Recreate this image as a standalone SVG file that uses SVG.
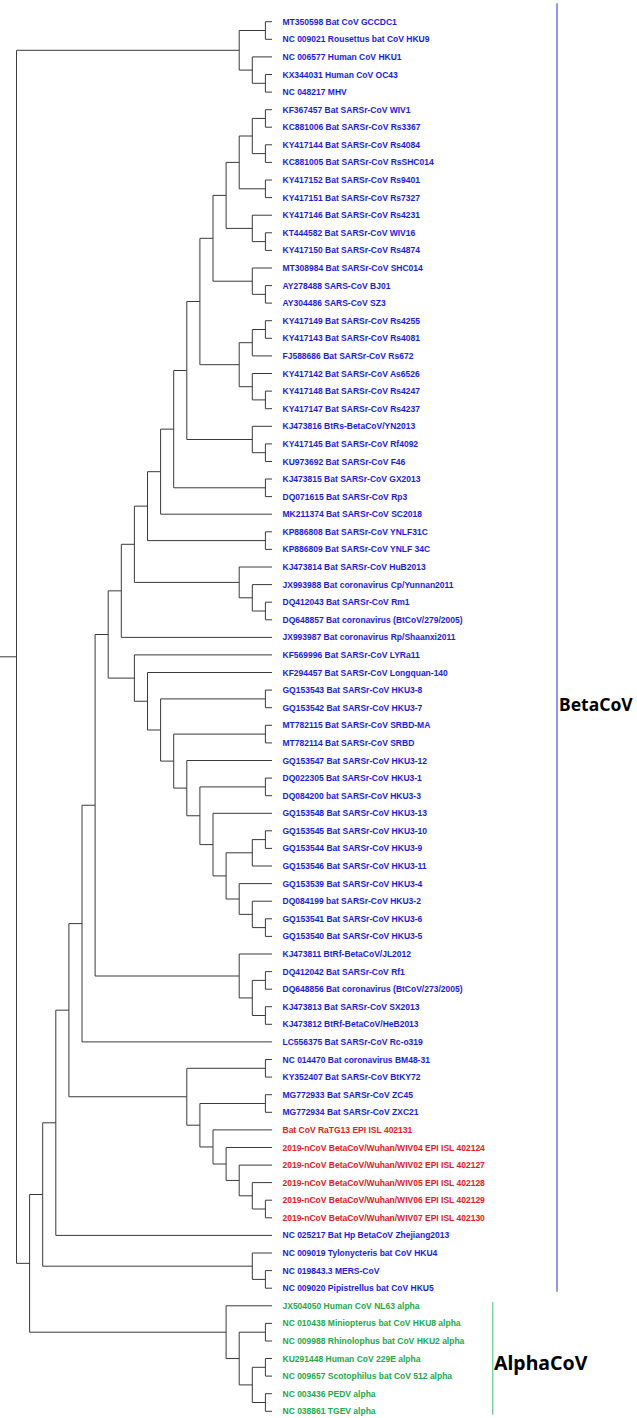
<svg xmlns="http://www.w3.org/2000/svg" width="637" height="1418" viewBox="0 0 637 1418">
<style>
.bg{fill:#ffffff}
.br{fill:none;stroke:#3a3a3a;stroke-width:1}
text.l{font-family:"Liberation Sans",Arial,sans-serif;font-size:8.5px;font-weight:bold}
.b{fill:#1c1ce0}
.r{fill:#e62020}
.g{fill:#22aa4a}
.cl{font-family:"Noto Sans","Liberation Sans",sans-serif;font-size:19.5px;font-weight:bold;fill:#000}
</style>
<rect class="bg" x="0" y="0" width="637" height="1418"/>
<g id="connectors" class="br">
<path d="M0 656.8H16.5"/>
<path d="M239.2 50.3H16.5V1263.35H29.6"/>
<path d="M272 21.7H265.4V39.3H272"/>
<path d="M272 74.5H265.4V92.1H272"/>
<path d="M272 56.9H252.3V83.3H265.4"/>
<path d="M265.4 30.5H239.2V70.1H252.3"/>
<path d="M42.7 1194.5H29.6V1332.2H226.1"/>
<path d="M55.8 1122.8H42.7V1266.2H252.3"/>
<path d="M272 1253H252.3V1279.4H265.4"/>
<path d="M272 1270.6H265.4V1288.2H272"/>
<path d="M68.9 1010.2H55.8V1235.4H272"/>
<path d="M82 923.6H68.9V1096.75H186.8"/>
<path d="M95.1 805.25H82V1041.9H272"/>
<path d="M108.2 634.5H95.1V976H239.2"/>
<path d="M272 954H239.2V997.95H252.3"/>
<path d="M265.4 980.4H252.3V1015.5H265.4"/>
<path d="M272 971.6H265.4V989.2H272"/>
<path d="M272 1006.7H265.4V1024.3H272"/>
<path d="M121.3 590.85H108.2V678.1H134.4"/>
<path d="M134.4 544.3H121.3V637.4H272"/>
<path d="M147.5 506.15H134.4V582.4H239.2"/>
<path d="M160.6 471.7H147.5V540.6H265.4"/>
<path d="M272 531.8H265.4V549.4H272"/>
<path d="M173.7 429.15H160.6V514.2H272"/>
<path d="M186.8 370.5H173.7V487.8H265.4"/>
<path d="M272 479H265.4V496.6H272"/>
<path d="M199.9 301.5H186.8V439.5H252.3"/>
<path d="M272 426.3H252.3V452.7H265.4"/>
<path d="M272 443.9H265.4V461.5H272"/>
<path d="M213 238.3H199.9V364.7H239.2"/>
<path d="M252.3 342.7H239.2V386.7H252.3"/>
<path d="M265.4 329.5H252.3V355.9H272"/>
<path d="M272 320.7H265.4V338.3H272"/>
<path d="M272 373.5H252.3V399.9H265.4"/>
<path d="M272 391.1H265.4V408.7H272"/>
<path d="M226.1 195.4H213V281.2H252.3"/>
<path d="M272 268H252.3V294.35H265.4"/>
<path d="M272 285.6H265.4V303.1H272"/>
<path d="M239.2 162.4H226.1V228.4H252.3"/>
<path d="M272 215.2H252.3V241.6H265.4"/>
<path d="M272 232.8H265.4V250.4H272"/>
<path d="M252.3 136H239.2V188.8H265.4"/>
<path d="M265.4 118.45H252.3V153.6H265.4"/>
<path d="M272 109.7H265.4V127.2H272"/>
<path d="M272 144.8H265.4V162.4H272"/>
<path d="M272 180H265.4V197.6H272"/>
<path d="M272 567H239.2V597.8H252.3"/>
<path d="M272 584.6H252.3V611H265.4"/>
<path d="M272 602.2H265.4V619.8H272"/>
<path d="M272 654.9H134.4V701.25H147.5"/>
<path d="M272 672.5H147.5V730H160.6"/>
<path d="M265.4 698.9H160.6V761.1H173.7"/>
<path d="M272 690.1H265.4V707.7H272"/>
<path d="M265.4 734.1H173.7V788.1H186.8"/>
<path d="M272 725.3H265.4V742.9H272"/>
<path d="M272 760.5H186.8V815.75H199.9"/>
<path d="M265.4 786.9H199.9V844.6H213"/>
<path d="M272 778.1H265.4V795.7H272"/>
<path d="M272 813.3H213V875.9H226.1"/>
<path d="M252.3 852.8H226.1V899H239.2"/>
<path d="M265.4 839.6H252.3V866H272"/>
<path d="M272 830.8H265.4V848.4H272"/>
<path d="M272 883.6H239.2V914.4H252.3"/>
<path d="M272 901.2H252.3V927.6H265.4"/>
<path d="M272 918.8H265.4V936.4H272"/>
<path d="M265.4 1068.3H186.8V1125.2H199.9"/>
<path d="M272 1059.5H265.4V1077.1H272"/>
<path d="M265.4 1103.5H199.9V1146.95H213"/>
<path d="M272 1094.7H265.4V1112.3H272"/>
<path d="M272 1129.9H213V1164H226.1"/>
<path d="M272 1147.5H226.1V1180.45H239.2"/>
<path d="M272 1165.1H239.2V1195.8H252.3"/>
<path d="M272 1182.6H252.3V1209H265.4"/>
<path d="M272 1200.2H265.4V1217.8H272"/>
<path d="M272 1305.8H226.1V1358.55H239.2"/>
<path d="M265.4 1332.2H239.2V1384.9H252.3"/>
<path d="M272 1323.4H265.4V1341H272"/>
<path d="M265.4 1367.3H252.3V1402.5H265.4"/>
<path d="M272 1358.5H265.4V1376.1H272"/>
<path d="M272 1393.7H265.4V1411.3H272"/>
</g>
<g id="leaves">
<g id="leaf0"><text class="l b" x="282.5" y="24.7">MT350598 Bat CoV GCCDC1</text></g>
<g id="leaf1"><text class="l b" x="282.5" y="42.3">NC 009021 Rousettus bat CoV HKU9</text></g>
<g id="leaf2"><text class="l b" x="282.5" y="59.9">NC 006577 Human CoV HKU1</text></g>
<g id="leaf3"><text class="l b" x="282.5" y="77.5">KX344031 Human CoV OC43</text></g>
<g id="leaf4"><text class="l b" x="282.5" y="95.1">NC 048217 MHV</text></g>
<g id="leaf5"><text class="l b" x="282.5" y="112.7">KF367457 Bat SARSr-CoV WIV1</text></g>
<g id="leaf6"><text class="l b" x="282.5" y="130.2">KC881006 Bat SARSr-CoV Rs3367</text></g>
<g id="leaf7"><text class="l b" x="282.5" y="147.8">KY417144 Bat SARSr-CoV Rs4084</text></g>
<g id="leaf8"><text class="l b" x="282.5" y="165.4">KC881005 Bat SARSr-CoV RsSHC014</text></g>
<g id="leaf9"><text class="l b" x="282.5" y="183">KY417152 Bat SARSr-CoV Rs9401</text></g>
<g id="leaf10"><text class="l b" x="282.5" y="200.6">KY417151 Bat SARSr-CoV Rs7327</text></g>
<g id="leaf11"><text class="l b" x="282.5" y="218.2">KY417146 Bat SARSr-CoV Rs4231</text></g>
<g id="leaf12"><text class="l b" x="282.5" y="235.8">KT444582 Bat SARSr-CoV WIV16</text></g>
<g id="leaf13"><text class="l b" x="282.5" y="253.4">KY417150 Bat SARSr-CoV Rs4874</text></g>
<g id="leaf14"><text class="l b" x="282.5" y="271">MT308984 Bat SARSr-CoV SHC014</text></g>
<g id="leaf15"><text class="l b" x="282.5" y="288.6">AY278488 SARS-CoV BJ01</text></g>
<g id="leaf16"><text class="l b" x="282.5" y="306.1">AY304486 SARS-CoV SZ3</text></g>
<g id="leaf17"><text class="l b" x="282.5" y="323.7">KY417149 Bat SARSr-CoV Rs4255</text></g>
<g id="leaf18"><text class="l b" x="282.5" y="341.3">KY417143 Bat SARSr-CoV Rs4081</text></g>
<g id="leaf19"><text class="l b" x="282.5" y="358.9">FJ588686 Bat SARSr-CoV Rs672</text></g>
<g id="leaf20"><text class="l b" x="282.5" y="376.5">KY417142 Bat SARSr-CoV As6526</text></g>
<g id="leaf21"><text class="l b" x="282.5" y="394.1">KY417148 Bat SARSr-CoV Rs4247</text></g>
<g id="leaf22"><text class="l b" x="282.5" y="411.7">KY417147 Bat SARSr-CoV Rs4237</text></g>
<g id="leaf23"><text class="l b" x="282.5" y="429.3">KJ473816 BtRs-BetaCoV/YN2013</text></g>
<g id="leaf24"><text class="l b" x="282.5" y="446.9">KY417145 Bat SARSr-CoV Rf4092</text></g>
<g id="leaf25"><text class="l b" x="282.5" y="464.5">KU973692 Bat SARSr-CoV F46</text></g>
<g id="leaf26"><text class="l b" x="282.5" y="482">KJ473815 Bat SARSr-CoV GX2013</text></g>
<g id="leaf27"><text class="l b" x="282.5" y="499.6">DQ071615 Bat SARSr-CoV Rp3</text></g>
<g id="leaf28"><text class="l b" x="282.5" y="517.2">MK211374 Bat SARSr-CoV SC2018</text></g>
<g id="leaf29"><text class="l b" x="282.5" y="534.8">KP886808 Bat SARSr-CoV YNLF31C</text></g>
<g id="leaf30"><text class="l b" x="282.5" y="552.4">KP886809 Bat SARSr-CoV YNLF 34C</text></g>
<g id="leaf31"><text class="l b" x="282.5" y="570">KJ473814 Bat SARSr-CoV HuB2013</text></g>
<g id="leaf32"><text class="l b" x="282.5" y="587.6">JX993988 Bat coronavirus Cp/Yunnan2011</text></g>
<g id="leaf33"><text class="l b" x="282.5" y="605.2">DQ412043 Bat SARSr-CoV Rm1</text></g>
<g id="leaf34"><text class="l b" x="282.5" y="622.8">DQ648857 Bat coronavirus (BtCoV/279/2005)</text></g>
<g id="leaf35"><text class="l b" x="282.5" y="640.4">JX993987 Bat coronavirus Rp/Shaanxi2011</text></g>
<g id="leaf36"><text class="l b" x="282.5" y="657.9">KF569996 Bat SARSr-CoV LYRa11</text></g>
<g id="leaf37"><text class="l b" x="282.5" y="675.5">KF294457 Bat SARSr-CoV Longquan-140</text></g>
<g id="leaf38"><text class="l b" x="282.5" y="693.1">GQ153543 Bat SARSr-CoV HKU3-8</text></g>
<g id="leaf39"><text class="l b" x="282.5" y="710.7">GQ153542 Bat SARSr-CoV HKU3-7</text></g>
<g id="leaf40"><text class="l b" x="282.5" y="728.3">MT782115 Bat SARSr-CoV SRBD-MA</text></g>
<g id="leaf41"><text class="l b" x="282.5" y="745.9">MT782114 Bat SARSr-CoV SRBD</text></g>
<g id="leaf42"><text class="l b" x="282.5" y="763.5">GQ153547 Bat SARSr-CoV HKU3-12</text></g>
<g id="leaf43"><text class="l b" x="282.5" y="781.1">DQ022305 Bat SARSr-CoV HKU3-1</text></g>
<g id="leaf44"><text class="l b" x="282.5" y="798.7">DQ084200 bat SARSr-CoV HKU3-3</text></g>
<g id="leaf45"><text class="l b" x="282.5" y="816.3">GQ153548 Bat SARSr-CoV HKU3-13</text></g>
<g id="leaf46"><text class="l b" x="282.5" y="833.8">GQ153545 Bat SARSr-CoV HKU3-10</text></g>
<g id="leaf47"><text class="l b" x="282.5" y="851.4">GQ153544 Bat SARSr-CoV HKU3-9</text></g>
<g id="leaf48"><text class="l b" x="282.5" y="869">GQ153546 Bat SARSr-CoV HKU3-11</text></g>
<g id="leaf49"><text class="l b" x="282.5" y="886.6">GQ153539 Bat SARSr-CoV HKU3-4</text></g>
<g id="leaf50"><text class="l b" x="282.5" y="904.2">DQ084199 bat SARSr-CoV HKU3-2</text></g>
<g id="leaf51"><text class="l b" x="282.5" y="921.8">GQ153541 Bat SARSr-CoV HKU3-6</text></g>
<g id="leaf52"><text class="l b" x="282.5" y="939.4">GQ153540 Bat SARSr-CoV HKU3-5</text></g>
<g id="leaf53"><text class="l b" x="282.5" y="957">KJ473811 BtRf-BetaCoV/JL2012</text></g>
<g id="leaf54"><text class="l b" x="282.5" y="974.6">DQ412042 Bat SARSr-CoV Rf1</text></g>
<g id="leaf55"><text class="l b" x="282.5" y="992.2">DQ648856 Bat coronavirus (BtCoV/273/2005)</text></g>
<g id="leaf56"><text class="l b" x="282.5" y="1009.7">KJ473813 Bat SARSr-CoV SX2013</text></g>
<g id="leaf57"><text class="l b" x="282.5" y="1027.3">KJ473812 BtRf-BetaCoV/HeB2013</text></g>
<g id="leaf58"><text class="l b" x="282.5" y="1044.9">LC556375 Bat SARSr-CoV Rc-o319</text></g>
<g id="leaf59"><text class="l b" x="282.5" y="1062.5">NC 014470 Bat coronavirus BM48-31</text></g>
<g id="leaf60"><text class="l b" x="282.5" y="1080.1">KY352407 Bat SARSr-CoV BtKY72</text></g>
<g id="leaf61"><text class="l b" x="282.5" y="1097.7">MG772933 Bat SARSr-CoV ZC45</text></g>
<g id="leaf62"><text class="l b" x="282.5" y="1115.3">MG772934 Bat SARSr-CoV ZXC21</text></g>
<g id="leaf63"><text class="l r" x="282.5" y="1132.9">Bat CoV RaTG13 EPI ISL 402131</text></g>
<g id="leaf64"><text class="l r" x="282.5" y="1150.5">2019-nCoV BetaCoV/Wuhan/WIV04 EPI ISL 402124</text></g>
<g id="leaf65"><text class="l r" x="282.5" y="1168.1">2019-nCoV BetaCoV/Wuhan/WIV02 EPI ISL 402127</text></g>
<g id="leaf66"><text class="l r" x="282.5" y="1185.6">2019-nCoV BetaCoV/Wuhan/WIV05 EPI ISL 402128</text></g>
<g id="leaf67"><text class="l r" x="282.5" y="1203.2">2019-nCoV BetaCoV/Wuhan/WIV06 EPI ISL 402129</text></g>
<g id="leaf68"><text class="l r" x="282.5" y="1220.8">2019-nCoV BetaCoV/Wuhan/WIV07 EPI ISL 402130</text></g>
<g id="leaf69"><text class="l b" x="282.5" y="1238.4">NC 025217 Bat Hp BetaCoV Zhejiang2013</text></g>
<g id="leaf70"><text class="l b" x="282.5" y="1256">NC 009019 Tylonycteris bat CoV HKU4</text></g>
<g id="leaf71"><text class="l b" x="282.5" y="1273.6">NC 019843.3 MERS-CoV</text></g>
<g id="leaf72"><text class="l b" x="282.5" y="1291.2">NC 009020 Pipistrellus bat CoV HKU5</text></g>
<g id="leaf73"><text class="l g" x="282.5" y="1308.8">JX504050 Human CoV NL63 alpha</text></g>
<g id="leaf74"><text class="l g" x="282.5" y="1326.4">NC 010438 Miniopterus bat CoV HKU8 alpha</text></g>
<g id="leaf75"><text class="l g" x="282.5" y="1344">NC 009988 Rhinolophus bat CoV HKU2 alpha</text></g>
<g id="leaf76"><text class="l g" x="282.5" y="1361.5">KU291448 Human CoV 229E alpha</text></g>
<g id="leaf77"><text class="l g" x="282.5" y="1379.1">NC 009657 Scotophilus bat CoV 512 alpha</text></g>
<g id="leaf78"><text class="l g" x="282.5" y="1396.7">NC 003436 PEDV alpha</text></g>
<g id="leaf79"><text class="l g" x="282.5" y="1414.3">NC 038861 TGEV alpha</text></g>
</g>
<g id="clade-beta">
<line x1="557" y1="3.3" x2="557" y2="1291.7" stroke="#2a2ad8" stroke-width="1"/>
<text class="cl" x="559" y="711" style="font-size:17.5px">BetaCoV</text>
</g>
<g id="clade-alpha">
<line x1="492.8" y1="1302" x2="492.8" y2="1414.7" stroke="#3cc07a" stroke-width="1"/>
<text class="cl" x="494" y="1370">AlphaCoV</text>
</g>
</svg>
